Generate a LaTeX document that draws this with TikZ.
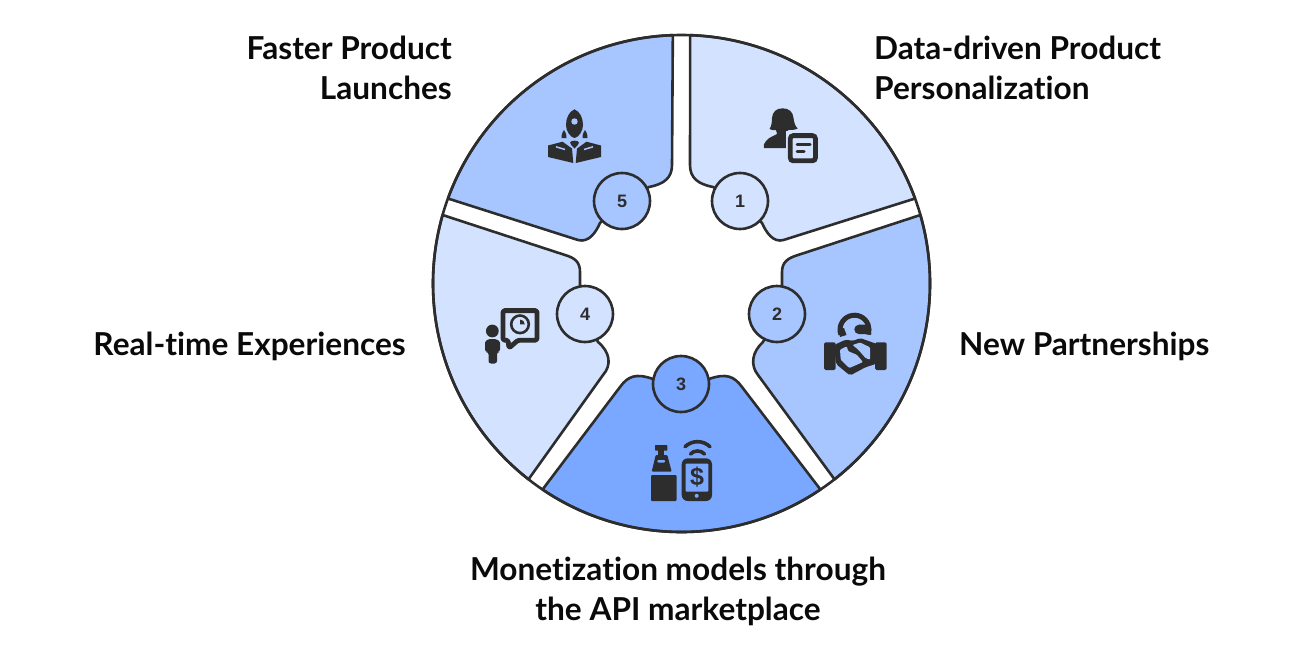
\documentclass[tikz,border=0pt]{standalone}
\usepackage{fontspec}
\setmainfont{Lato}[Ligatures=NoCommon]
\newfontfamily\numfont{Liberation Sans}
\definecolor{cLight}{RGB}{211,227,255}
\definecolor{cMid}{RGB}{167,198,255}
\definecolor{cDark}{RGB}{122,167,255}
\definecolor{cInk}{RGB}{45,45,45}
\definecolor{cText}{RGB}{10,10,10}
\tikzset{
  seg/.style={draw=cInk,line width=2.6pt,line join=round},
  badge/.style={circle,draw=cInk,line width=2.6pt,minimum size=56pt,inner sep=0pt,font=\numfont\bfseries\fontsize{18}{20}\selectfont,text=cInk},
  lab/.style={font=\bfseries\fontsize{31.6}{36}\selectfont,text=cText,inner sep=0pt},
  ink/.style={fill=cInk,draw=none},
}
\begin{document}
\begin{tikzpicture}[x=1pt,y=-1pt]
\useasboundingbox (0,0) rectangle (1300,646);
\coordinate (c) at (681.5,283.5);
% segments
\draw[seg,fill=cLight] ([shift={(-88:248.5)}]c) arc[start angle=-88,end angle=-20,radius=248.5]
  -- (783.5,240) .. controls (773,243) and (766,232) .. (762,223) -- (740,201) -- (713,187)
  .. controls (698,184) and (690,178) .. (690,165) -- cycle;
\draw[seg,fill=cMid] ([shift={(-16:248.5)}]c) arc[start angle=-16,end angle=52,radius=248.5]
  -- (758,375) .. controls (750,365) and (752,352) .. (763,342) -- (777,314) -- (782,285) -- (782,272)
  .. controls (782,262) and (788,258) .. (798,255) -- cycle;
\draw[seg,fill=cDark] ([shift={(56:248.5)}]c) arc[start angle=56,end angle=124,radius=248.5]
  -- (620,387) .. controls (628,376) and (636,373) .. (653,379) -- (681,384) -- (709,379)
  .. controls (726,373) and (734,376) .. (742,387) -- cycle;
\draw[seg,fill=cLight] ([shift={(128:248.5)}]c) arc[start angle=128,end angle=196,radius=248.5]
  -- (565,255) .. controls (575,258) and (580,262) .. (580,272) -- (580,285) -- (585,314) -- (598,342)
  .. controls (610,352) and (612,365) .. (603,375) -- cycle;
\draw[seg,fill=cMid] ([shift={(200:248.5)}]c) arc[start angle=200,end angle=268,radius=248.5]
  -- (672,165) .. controls (672,178) and (664,184) .. (649,187) -- (622,201) -- (600,223)
  .. controls (596,232) and (589,243) .. (578,240) -- cycle;
\draw[seg] (c) circle (248.5);
% number badges
\node[badge,fill=cLight] (n1) at (740,201) {1};
\node[badge,fill=cMid] (n2) at (777,314) {2};
\node[badge,fill=cDark] (n3) at (681,384) {3};
\node[badge,fill=cLight] (n4) at (585,314) {4};
\node[badge,fill=cMid] (n5) at (622,201) {5};
% labels
\node[lab,anchor=base east] (t5a) at (452,59.7) {Faster Product};
\node[lab,anchor=base east] (t5b) at (452,99.7) {Launches};
\node[lab,anchor=base west] (t1a) at (874,59.7) {Data-driven Product};
\node[lab,anchor=base west] (t1b) at (874,99.7) {Personalization};
\node[lab,anchor=base west] (t2) at (959,355.7) {New Partnerships};
\node[lab,anchor=base east] (t4) at (406,355.7) {Real-time Experiences};
\node[lab,anchor=base] (t3a) at (678,580.7) {Monetization models through};
\node[lab,anchor=base] (t3b) at (678,620.7) {the API marketplace};
% rocket icon
\fill[ink] (574.5,109.3) .. controls (580,111.5) and (583,118) .. (583,125) .. controls (583,131) and (579,137) .. (574.5,138) .. controls (570,137) and (566,131) .. (566,125) .. controls (566,118) and (569,111.5) .. (574.5,109.3) -- cycle;
\fill[cMid] (574.5,121.5) circle (3.2);
\fill[ink] (564,130) .. controls (566,133) and (567,136) .. (566.5,138) -- (561.5,138) .. controls (561,136) and (562,133) .. (564,130) -- cycle;
\fill[ink] (585,130) .. controls (587,133) and (588,136) .. (587.5,138) -- (582.5,138) .. controls (582,136) and (583,133) .. (585,130) -- cycle;
\fill[ink] (574.5,148.5) .. controls (572,146) and (570,144) .. (570,142.5) .. controls (571,140) and (578,140) .. (579,142.5) .. controls (579,144) and (577,146) .. (574.5,148.5) -- cycle;
\fill[ink] (548,145.5) -- (562.5,141.7) -- (572,148.5) -- (573.3,163) -- (548,157) -- cycle;
\fill[ink] (601,145.5) -- (586.5,141.7) -- (577,148.5) -- (575.7,163) -- (601,157) -- cycle;
\draw[cMid,line width=1.5pt] (556,146.8) -- (565,149.5);
\draw[cMid,line width=1.5pt] (593,146.8) -- (584,149.5);
% person with note icon
\fill[ink] (769.5,129) .. controls (771.5,126) and (772,122) .. (772,118) .. controls (772.5,112) and (776,108.3) .. (782.7,108.3) .. controls (789,108.3) and (793,112) .. (793.5,118) .. controls (794,122) and (795,126) .. (797.7,128.5) .. controls (795,130) and (791,130) .. (788,130) -- (788,148) -- (764,148) .. controls (763,146) and (764,143) .. (766,141) .. controls (769,137) and (774,136) .. (777,134) -- (776,130) .. controls (774,130.5) and (771,130) .. (769.5,129) -- cycle;
\fill[cLight] (785.5,131) rectangle (820,165);
\draw[cInk,line width=4.8pt,fill=cLight,rounded corners=3pt] (790.3,135.6) rectangle (815.4,160.8);
\draw[cInk,line width=3pt,line cap=round] (797,144) -- (810,144);
\draw[cInk,line width=3pt,line cap=round] (797,151) -- (804,151);
% handshake icon
\draw[cInk,line width=5pt] ([shift={(160:14.5)}]854.5,329.7) arc[start angle=160,end angle=380,radius=14.5];
\fill[ink] (838,328) -- (844,328) -- (846.5,335) -- (840,337) -- cycle;
\fill[ink] (859,329.4) circle (4.7);
\fill[ink] (859,324.7) -- (868,324.7) -- (871.5,334) -- (859,334) -- cycle;
\fill[ink,rounded corners=1.5pt] (824,342.3) rectangle (835.7,370);
\fill[ink,rounded corners=1.5pt] (875,342.3) rectangle (886.7,370);
\fill[ink,rounded corners=2pt] (834,345) -- (846,339.5) -- (853,341) -- (860,338) -- (877,344) -- (876,364) -- (866,367) -- (850,375.5) -- (836,364) -- cycle;
\fill[cMid,rounded corners=1pt] (840,349.7) -- (846.7,346.3) -- (848.3,351.3) -- (856.7,354.7) -- (863,362) -- (849.3,368) -- (840.7,359.7) -- cycle;
\fill[cMid,rounded corners=1pt] (852.5,345) -- (860,342.5) -- (870,347.3) -- (870,359.7) -- (865.5,358) -- (858.3,349.7) -- cycle;
% payment icon
\fill[ink,rounded corners=0.7pt] (655,445) rectangle (667.3,450.7);
\fill[ink] (658.3,450) rectangle (664.3,456);
\fill[ink,rounded corners=1pt] (655.7,455) -- (667.3,455) -- (671.7,471.7) -- (651.7,471.7) -- cycle;
\fill[cDark,rounded corners=1pt] (657.3,460) rectangle (665,462.5);
\fill[ink,rounded corners=1pt] (651,475) rectangle (676.7,501);
\fill[ink,rounded corners=6pt] (681.7,458.3) rectangle (712,501);
\fill[cDark,rounded corners=1pt] (685.5,463.5) rectangle (708.3,491.7);
\fill[cDark] (696.7,495.8) circle (2);
\node[font=\numfont\bfseries\fontsize{25}{27}\selectfont,text=cInk,inner sep=0pt] (dollar) at (697,477) {\$};
\draw[cInk,line width=3.6pt,line cap=round] (685,446.7) .. controls (692,440) and (703,440) .. (710,446.7);
\draw[cInk,line width=3.6pt,line cap=round] (690.5,454) .. controls (694,450) and (701,450) .. (704.5,454);
% presenter icon
\fill[ink] (492.3,331) circle (6.4);
\fill[ink,rounded corners=2.5pt] (485,352) -- (485,345) .. controls (485,341) and (488,339) .. (492.3,339) .. controls (497,339) and (500,341) .. (500,345) -- (500,352) -- (497,352) -- (497,363.5) -- (488.5,363.5) -- (488.5,352) -- cycle;
\draw[cInk,line width=4.8pt,fill=cLight,line join=round,rounded corners=1.5pt] (503,310.6) -- (537,310.6) -- (537,340.2) -- (518,340.2) -- (509,348) -- (508,340.2) -- (503,340.2) -- cycle;
\draw[cInk,line width=2.6pt] (520,324.3) circle (8.8);
\fill[ink] (520,324.3) -- (520,319.5) arc[start angle=-90,end angle=0,radius=4.8] -- cycle;
\end{tikzpicture}
\end{document}
